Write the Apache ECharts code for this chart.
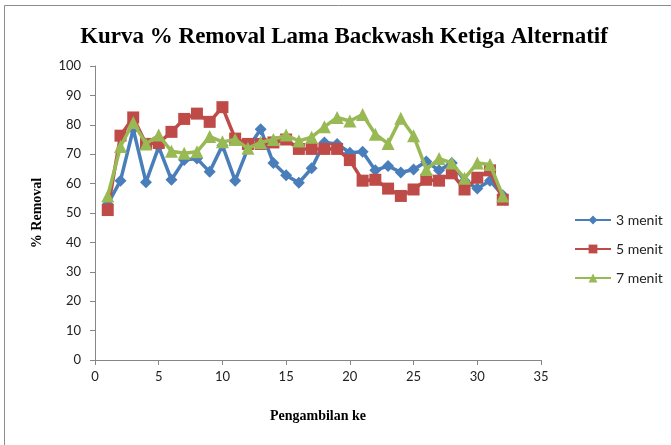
<!DOCTYPE html>
<html lang="id">
<head>
    <meta charset="UTF-8">
    <title>Kurva % Removal Lama Backwash Ketiga Alternatif</title>
    <script src="https://cdn.jsdelivr.net/npm/echarts@6/dist/echarts.min.js"></script>
    <style>
        html, body { margin: 0; padding: 0; background: #fff; }
        #chart { width: 671px; height: 445px; }
    </style>
</head>
<body>
    <div id="chart"></div>
    <script>
        // Pengambilan ke 1..32
        var pengambilan = [1, 2, 3, 4, 5, 6, 7, 8, 9, 10, 11, 12, 13, 14, 15, 16,
                           17, 18, 19, 20, 21, 22, 23, 24, 25, 26, 27, 28, 29, 30, 31, 32];

        var menit3 = [53, 61, 78.5, 60.5, 72.5, 61.3, 68, 68.5, 64, 73, 61, 72, 78.5, 67, 62.8, 60.3,
                      65.2, 74, 73.5, 70.5, 70.8, 64.5, 66, 63.8, 64.8, 67.5, 64.5, 67, 61, 58.3, 61, 56];
        var menit5 = [51, 76.3, 82.5, 73.5, 73.8, 77.6, 82, 83.8, 81, 86, 75.3, 73.5, 73.5, 74, 75, 71.8,
                      71.8, 71.8, 71.8, 68, 61, 61.3, 58.3, 55.8, 58, 61.3, 61, 63.5, 58, 62, 64.5, 54.5];
        var menit7 = [55.8, 72.6, 80.8, 73.5, 76.5, 71, 70.3, 70.8, 76, 74.2, 75, 72, 74, 75, 76.5, 74.5,
                      75.8, 79.3, 82.5, 81.3, 83.5, 76.8, 73.6, 82.2, 76.3, 64.8, 68.5, 67, 61.8, 67, 66.5, 55.8];

        var seriesNames = ['3 menit', '5 menit', '7 menit'];
        var seriesColors = ['#4a7ebb', '#be4b48', '#98b954'];
        var seriesSymbols = ['diamond', 'rect', 'triangle'];
        var seriesSizes = [12, 12, 13];

        var chart = echarts.init(document.getElementById('chart'));

        function toPairs(values) {
            return values.map(function (v, i) { return [pengambilan[i], v]; });
        }

        var allValues = [menit3, menit5, menit7];
        var series = allValues.map(function (values, i) {
            return {
                name: seriesNames[i],
                type: 'line',
                data: toPairs(values),
                symbol: seriesSymbols[i],
                symbolSize: seriesSizes[i],
                showAllSymbol: true,
                lineStyle: { color: seriesColors[i], width: 3.5 },
                itemStyle: { color: seriesColors[i] },
                z: 2 + i,
                animation: false
            };
        });

        var labelFont = { fontFamily: 'Lato', fontSize: 13, color: '#222' };

        chart.setOption({
            animation: false,
            backgroundColor: '#fff',
            title: {
                text: 'Kurva % Removal Lama Backwash Ketiga Alternatif',
                left: 339,
                textAlign: 'center',
                top: 21,
                textStyle: {
                    fontFamily: 'Liberation Serif',
                    fontWeight: 'bold',
                    fontSize: 23,
                    color: '#000'
                }
            },
            graphic: [{
                type: 'rect',
                shape: { x: 4.5, y: 5.5, width: 700, height: 500 },
                style: { fill: 'none', stroke: '#8c8c8c', lineWidth: 1 },
                silent: true
            }],
            legend: {
                orient: 'vertical',
                left: 569,
                top: 208,
                itemWidth: 36,
                itemHeight: 11,
                itemGap: 15,
                textStyle: { fontFamily: 'Lato', fontSize: 14, color: '#222' },
                data: seriesNames
            },
            grid: { left: 95, right: 130, top: 66, bottom: 85 },
            xAxis: {
                type: 'value',
                min: 0,
                max: 35,
                interval: 5,
                name: 'Pengambilan ke',
                nameLocation: 'middle',
                nameGap: 49,
                nameTextStyle: {
                    fontFamily: 'Liberation Serif',
                    fontWeight: 'bold',
                    fontSize: 14,
                    color: '#000'
                },
                axisLine: { lineStyle: { color: '#868686', width: 1 } },
                axisTick: { show: true, length: 5, lineStyle: { color: '#868686' } },
                axisLabel: Object.assign({ margin: 10 }, labelFont),
                splitLine: { show: false }
            },
            yAxis: {
                type: 'value',
                min: 0,
                max: 100,
                interval: 10,
                name: '% Removal',
                nameLocation: 'middle',
                nameGap: 51,
                nameRotate: 90,
                nameTextStyle: {
                    fontFamily: 'Liberation Serif',
                    fontWeight: 'bold',
                    fontSize: 14,
                    color: '#000'
                },
                axisLine: { show: true, lineStyle: { color: '#868686', width: 1 } },
                axisTick: { show: true, length: 5, lineStyle: { color: '#868686' } },
                axisLabel: Object.assign({ margin: 14 }, labelFont),
                splitLine: { show: false }
            },
            series: series
        });
    </script>
</body>
</html>
